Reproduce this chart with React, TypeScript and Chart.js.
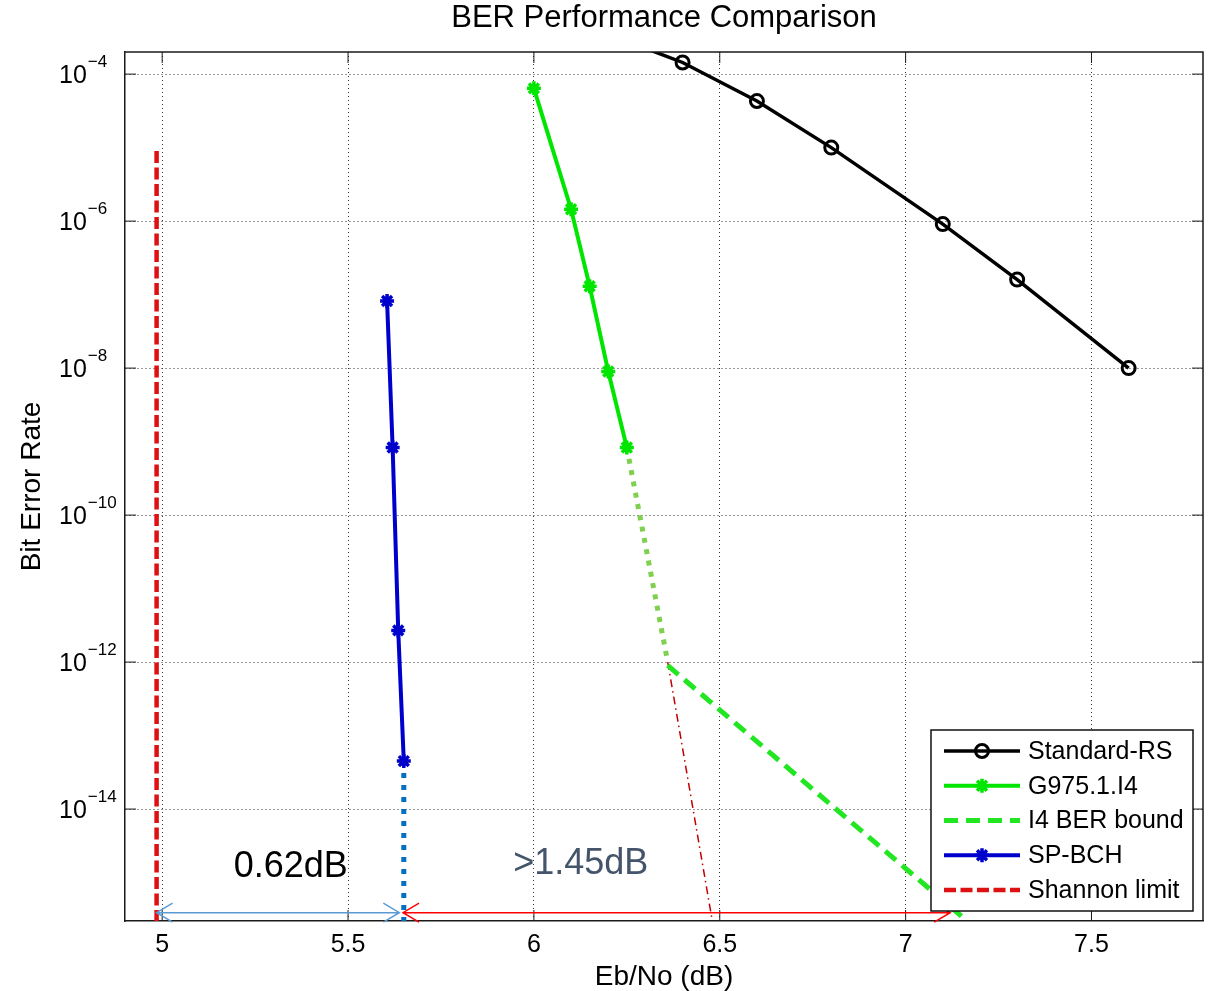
import React, { useEffect, useRef } from 'react';
import { Chart, registerables } from 'chart.js';

Chart.register(...registerables);

// ---------- data ----------
const rsEbNo = [6.2, 6.4, 6.6, 6.8, 7.1, 7.3, 7.6];
const rsBer = [3.5e-4, 1.44e-4, 4.3e-5, 1.0e-5, 9.1e-7, 1.6e-7, 1.0e-8];

const g975EbNo = [6.0, 6.1, 6.15, 6.2, 6.25];
const g975Ber = [6.4e-5, 1.45e-6, 1.3e-7, 9.0e-9, 8.3e-10];

const g975ExtEbNo = [6.25, 6.36];
const g975ExtBer = [8.3e-10, 1.0e-12];

const boundEbNo = [6.36, 7.15];
const boundBer = [9.0e-13, 3.5e-16];

const spEbNo = [5.605, 5.62, 5.635, 5.65];
const spBer = [8.2e-8, 8.3e-10, 2.7e-12, 4.5e-14];

const spExtEbNo = [5.65, 5.65];
const spExtBer = [4.5e-14, 3.0e-16];

const shannonEbNo = [4.985, 4.985];
const shannonBer = [9.0e-6, 3.0e-16];

const projEbNo = [6.36, 6.48];
const projBer = [1.0e-12, 3.0e-16];

// axis
const xMin = 4.9;
const xMax = 7.8;
const yMin = 3e-16;
const yMax = 2e-4;
const xTicks = [5, 5.5, 6, 6.5, 7, 7.5];
const yTickExp = [-4, -6, -8, -10, -12, -14];

// gap annotations
const gapStart = [4.985, 5.648];
const gapEnd = [5.638, 7.12];
const gapBer = [3.9e-16, 3.9e-16];
const gapLabels = ['0.62dB', '>1.45dB'];
const gapLabelX = [5.346, 6.126];
const gapLabelBer = [1.64e-15, 1.8e-15];

const FONT = '"Liberation Sans", Arial, Helvetica, sans-serif';

function pts(xs: number[], ys: number[]) {
  return xs.map((x, i) => ({ x, y: ys[i] }));
}

function drawMarker(ctx: CanvasRenderingContext2D, style: string, x: number, y: number, r: number, color: string, lw: number) {
  ctx.save();
  ctx.setLineDash([]);
  ctx.strokeStyle = color;
  ctx.lineWidth = lw;
  ctx.beginPath();
  if (style === 'circle') {
    ctx.arc(x, y, r, 0, Math.PI * 2);
  } else if (style === 'star') {
    for (let k = 0; k < 4; k++) {
      const ang = (k * Math.PI) / 4;
      ctx.moveTo(x - r * Math.cos(ang), y - r * Math.sin(ang));
      ctx.lineTo(x + r * Math.cos(ang), y + r * Math.sin(ang));
    }
  }
  ctx.stroke();
  ctx.restore();
}

const decor = {
  id: 'decor',
  afterDatasetsDraw(chart: any) {
    const { ctx, chartArea: a, scales } = chart;
    const xs = scales.x;
    const ys = scales.y;
    ctx.save();
    ctx.setLineDash([]);
    // box top/right
    ctx.strokeStyle = '#1a1a1a';
    ctx.lineWidth = 1.5;
    ctx.beginPath();
    ctx.moveTo(a.left, a.top);
    ctx.lineTo(a.right, a.top);
    ctx.lineTo(a.right, a.bottom);
    ctx.stroke();
    // inward ticks
    ctx.lineWidth = 1;
    ctx.beginPath();
    xTicks.forEach((v) => {
      const px = xs.getPixelForValue(v);
      ctx.moveTo(px, a.bottom);
      ctx.lineTo(px, a.bottom - 11);
      ctx.moveTo(px, a.top);
      ctx.lineTo(px, a.top + 11);
    });
    yTickExp.forEach((e) => {
      const py = ys.getPixelForValue(Math.pow(10, e));
      ctx.moveTo(a.left, py);
      ctx.lineTo(a.left + 11, py);
      ctx.moveTo(a.right, py);
      ctx.lineTo(a.right - 11, py);
    });
    ctx.stroke();

    // arrows
    const arrowColors = ['#5b9bd5', '#ff0000'];
    gapStart.forEach((s, i) => {
      const x1 = xs.getPixelForValue(s);
      const x2 = xs.getPixelForValue(gapEnd[i]);
      const y = ys.getPixelForValue(gapBer[i]);
      ctx.strokeStyle = arrowColors[i];
      ctx.lineWidth = 1.5;
      ctx.beginPath();
      ctx.moveTo(x1, y);
      ctx.lineTo(x2, y);
      ctx.moveTo(x1 + 16, y - 9.5);
      ctx.lineTo(x1, y);
      ctx.lineTo(x1 + 16, y + 9.5);
      ctx.moveTo(x2 - 16, y - 9.5);
      ctx.lineTo(x2, y);
      ctx.lineTo(x2 - 16, y + 9.5);
      ctx.stroke();
    });

    // gap labels
    const labelColors = ['#000000', '#44546a'];
    ctx.font = `36px ${FONT}`;
    ctx.textAlign = 'center';
    ctx.textBaseline = 'middle';
    gapLabels.forEach((t, i) => {
      ctx.fillStyle = labelColors[i];
      ctx.fillText(t, xs.getPixelForValue(gapLabelX[i]), ys.getPixelForValue(gapLabelBer[i]));
    });
    ctx.restore();
  },
  afterDraw(chart: any) {
    const { ctx, chartArea: a, scales } = chart;
    const ys = scales.y;
    ctx.save();
    // y tick labels 10^e
    ctx.fillStyle = '#000';
    ctx.textAlign = 'left';
    ctx.textBaseline = 'alphabetic';
    yTickExp.forEach((e) => {
      const py = ys.getPixelForValue(Math.pow(10, e));
      const x0 = 59;
      ctx.font = `25px ${FONT}`;
      ctx.fillText('10', x0, py + 9);
      const w = ctx.measureText('10').width;
      ctx.font = `17px ${FONT}`;
      ctx.fillText('\u2212' + Math.abs(e), x0 + w + 1, py - 7);
    });

    // legend
    const items = chart.data.datasets.filter((d: any) => d.label);
    const bw = 262;
    const bh = 181;
    const bx = a.right - 10 - bw;
    const by = a.bottom - 10 - bh;
    ctx.fillStyle = '#ffffff';
    ctx.fillRect(bx, by, bw, bh);
    ctx.strokeStyle = '#111';
    ctx.lineWidth = 1.5;
    ctx.setLineDash([]);
    ctx.strokeRect(bx, by, bw, bh);
    items.forEach((d: any, i: number) => {
      const y = by + 21 + i * 34.75;
      ctx.save();
      ctx.strokeStyle = d.borderColor;
      ctx.lineWidth = d.borderWidth;
      ctx.setLineDash(d.borderDash || []);
      ctx.beginPath();
      ctx.moveTo(bx + 13, y);
      ctx.lineTo(bx + 89, y);
      ctx.stroke();
      ctx.restore();
      if (d.pointRadius > 0) {
        drawMarker(ctx, d.pointStyle, bx + 51, y, d.pointRadius, d.pointBorderColor, d.pointBorderWidth);
      }
      ctx.fillStyle = '#000';
      ctx.font = `25px ${FONT}`;
      ctx.textBaseline = 'middle';
      ctx.textAlign = 'left';
      ctx.fillText(d.label, bx + 97, y + 1);
    });
    ctx.restore();
  },
};

export default function App() {
  const ref = useRef<HTMLCanvasElement | null>(null);

  useEffect(() => {
    if (!ref.current) return;
    Chart.defaults.font.family = FONT;
    Chart.defaults.color = '#000';
    const common = { fill: false, tension: 0, showLine: true };
    const chart = new Chart(ref.current, {
      type: 'line',
      data: {
        datasets: [
          {
            ...common,
            label: 'Standard-RS',
            data: pts(rsEbNo, rsBer),
            borderColor: '#000000',
            borderWidth: 3.5,
            pointStyle: 'circle',
            pointRadius: 6.5,
            pointBorderWidth: 3,
            pointBorderColor: '#000000',
            pointBackgroundColor: 'rgba(0,0,0,0)',
          },
          {
            ...common,
            label: 'G975.1.I4',
            data: pts(g975EbNo, g975Ber),
            borderColor: '#00e600',
            borderWidth: 4,
            pointStyle: 'star',
            pointRadius: 7,
            pointBorderWidth: 3.5,
            pointBorderColor: '#00e600',
            pointBackgroundColor: '#00e600',
          },
          {
            ...common,
            label: '',
            data: pts(g975ExtEbNo, g975ExtBer),
            borderColor: '#80d050',
            borderWidth: 5,
            borderDash: [5, 6.5],
            pointRadius: 0,
          },
          {
            ...common,
            label: 'I4 BER bound',
            data: pts(boundEbNo, boundBer),
            borderColor: '#22e622',
            borderWidth: 5,
            borderDash: [14, 8],
            pointRadius: 0,
          },
          {
            ...common,
            label: 'SP-BCH',
            data: pts(spEbNo, spBer),
            borderColor: '#0000cc',
            borderWidth: 4,
            pointStyle: 'star',
            pointRadius: 7,
            pointBorderWidth: 3.5,
            pointBorderColor: '#0000cc',
            pointBackgroundColor: '#0000cc',
          },
          {
            ...common,
            label: '',
            data: pts(spExtEbNo, spExtBer),
            borderColor: '#0070c0',
            borderWidth: 5,
            borderDash: [5, 7],
            pointRadius: 0,
          },
          {
            ...common,
            label: 'Shannon limit',
            data: pts(shannonEbNo, shannonBer),
            borderColor: '#dd1111',
            borderWidth: 4.5,
            borderDash: [12, 4.5],
            pointRadius: 0,
          },
          {
            ...common,
            label: '',
            data: pts(projEbNo, projBer),
            borderColor: '#c00000',
            borderWidth: 1.5,
            borderDash: [8, 4, 1.5, 4],
            pointRadius: 0,
          },
        ],
      },
      options: {
        animation: false,
        responsive: false,
        events: [],
        layout: { autoPadding: false, padding: { left: 0, top: 0, right: 6, bottom: 0 } },
        plugins: {
          legend: { display: false },
          tooltip: { enabled: false },
          title: {
            display: true,
            text: 'BER Performance Comparison',
            fullSize: false,
            color: '#000',
            font: { size: 31, weight: 'normal', family: FONT, lineHeight: 1.2 },
            padding: { top: 0, bottom: 14.8 },
          },
        },
        scales: {
          x: {
            type: 'linear',
            min: xMin,
            max: xMax,
            afterBuildTicks: (s: any) => {
              s.ticks = xTicks.map((v) => ({ value: v }));
            },
            afterFit: (s: any) => {
              s.height = 70;
            },
            ticks: {
              font: { size: 25, family: FONT },
              color: '#000',
              padding: 9,
              maxRotation: 0,
              autoSkip: false,
              callback: (v: any) => String(v),
            },
            grid: { color: '#333', lineWidth: 1, drawTicks: false },
            border: { display: true, color: '#1a1a1a', width: 1.5, dash: [1, 3] },
            title: {
              display: true,
              text: 'Eb/No (dB)',
              color: '#000',
              font: { size: 28, family: FONT, lineHeight: 1 },
              padding: { top: 0, bottom: 0 },
            },
          },
          y: {
            type: 'logarithmic',
            min: yMin,
            max: yMax,
            afterBuildTicks: (s: any) => {
              s.ticks = yTickExp.map((e) => ({ value: Math.pow(10, e) }));
            },
            afterFit: (s: any) => {
              s.width = 125;
            },
            ticks: { display: false },
            grid: { color: '#333', lineWidth: 1, drawTicks: false },
            border: { display: true, color: '#1a1a1a', width: 1.5, dash: [1, 3] },
            title: {
              display: true,
              text: 'Bit Error Rate',
              color: '#000',
              font: { size: 28, family: FONT, lineHeight: 1 },
              padding: { top: 18, bottom: 0 },
            },
          },
        },
      },
      plugins: [decor],
    } as any);
    return () => chart.destroy();
  }, []);

  return (
    <div style={{ position: 'absolute', left: 0, top: 0, width: 1209, height: 991, background: '#fff' }}>
      <canvas ref={ref} width={1209} height={991} style={{ display: 'block' }} />
    </div>
  );
}
